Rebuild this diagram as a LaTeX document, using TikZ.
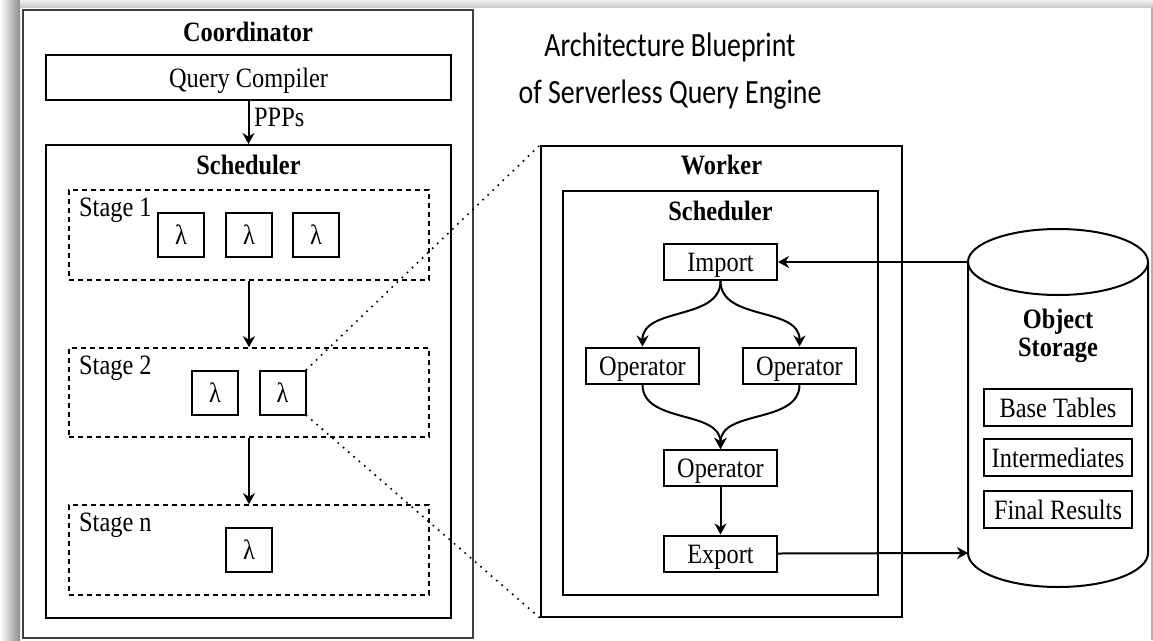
\documentclass[tikz,border=0pt]{standalone}
\usepackage{fontspec}
\setmainfont{Liberation Serif}[FakeStretch=0.87]
\newfontfamily\titlefont{Carlito}[FakeStretch=0.82]
\usetikzlibrary{arrows.meta}

\newcommand\labelsize{\fontsize{28}{32}\selectfont}

\tikzset{
  box/.style={draw, line width=2pt, rectangle, inner sep=0pt, align=center,
              text height=25pt, text depth=6pt},
  frame/.style={draw, line width=2pt, rectangle, inner sep=0pt},
  lambox/.style={box, minimum width=46pt, minimum height=44pt},
  opbox/.style={box, minimum width=113pt, minimum height=36pt},
  storebox/.style={box, minimum width=148pt, minimum height=37pt},
  stagebox/.style={draw, line width=1.6pt, dash pattern=on 5pt off 4pt, rectangle,
                   minimum width=360pt, minimum height=90pt, inner sep=0pt},
  caption/.style={inner sep=0pt, font=\labelsize\bfseries},
  plain/.style={inner sep=0pt},
  arr/.style={line width=2pt, -{Stealth[length=11pt,width=12pt,inset=3.5pt]}},
  zoomline/.style={line width=2.3pt, dash pattern=on 0pt off 7pt, line cap=round},
}

\begin{document}
\begin{tikzpicture}[x=1pt, y=-1pt, font=\labelsize]
\useasboundingbox (0,0) rectangle (1153,640);

% page edge shadow
\shade[left color=white, right color=black!45] (0,0) rectangle (20,640);
\shade[top color=black!6, bottom color=black!20] (20,0) rectangle (1153,7);
\fill[black!30] (1151,7) rectangle (1153,640);

% ---------------- Coordinator ----------------
\node[frame, draw=black!75, minimum width=450pt, minimum height=628pt] (coord) at (248,324) {};
\node[caption] (coordT) at (248,32) {Coordinator};
\node[box, minimum width=405pt, minimum height=45pt] (qc) at (248.5,77.5) {Query Compiler};
\node[frame, minimum width=405pt, minimum height=473pt] (sched) at (248.5,381.5) {};
\node[caption] (schedT) at (248.5,165) {Scheduler};

\draw[arr] (qc.south) -- (sched.north);
\node[plain, anchor=west] (ppps) at (254,117) {PPPs};

% stages
\node[stagebox] (s1) at (249,235) {};
\node[stagebox, minimum height=89pt] (s2) at (249,392.5) {};
\node[stagebox] (sn) at (249,550) {};
\node[plain, anchor=west] (s1T) at (79,210) {Stage 1};
\node[plain, anchor=west] (s2T) at (79,368) {Stage 2};
\node[plain, anchor=west] (snT) at (79,525) {Stage n};

\node[lambox] (l11) at (181,235) {λ};
\node[lambox] (l12) at (249,235) {λ};
\node[lambox] (l13) at (316,235) {λ};
\node[lambox] (l21) at (215,392.5) {λ};
\node[lambox] (l22) at (282.5,392.5) {λ};
\node[lambox] (ln1) at (249,550) {λ};

\draw[arr] (s1.south) -- (s2.north);
\draw[arr] (s2.south) -- (sn.north);

% ---------------- Title ----------------
\node[plain, font=\titlefont\fontsize{34}{40}\selectfont] (title1) at (670,47) {Architecture Blueprint};
\node[plain, font=\titlefont\fontsize{34}{40}\selectfont] (title2) at (670,95) {of Serverless Query Engine};

% ---------------- Worker ----------------
\node[frame, minimum width=361pt, minimum height=471pt] (worker) at (721.5,381.5) {};
\node[caption] (workerT) at (721.5,165) {Worker};
\node[frame, minimum width=315pt, minimum height=404pt] (wsched) at (720.5,393) {};
\node[caption] (wschedT) at (720.5,211) {Scheduler};

\node[opbox] (imp) at (720.5,262) {Import};
\node[opbox] (opl) at (642.5,365.5) {Operator};
\node[opbox] (opr) at (799.5,365.5) {Operator};
\node[opbox] (opm) at (720.5,468) {Operator};
\node[opbox] (exp) at (720.5,553.5) {Export};

\draw[arr] (imp.south) to[out=-90, in=90] (opl.north);
\draw[arr] (imp.south) to[out=-90, in=90] (opr.north);
\draw[arr] (opl.south) to[out=-90, in=90] (opm.north);
\draw[arr] (opr.south) to[out=-90, in=90] (opm.north);
\draw[arr] (opm.south) -- (exp.north);

% zoom lines from a stage-2 function to the worker
\draw[zoomline] (l22.north east) -- (worker.north west);
\draw[zoomline] (l22.south east) -- (worker.south west);

% ---------------- Object storage ----------------
\draw[line width=2pt] (968,262) -- (968,553)
  arc[start angle=180, end angle=0, x radius=90, y radius=34] -- (1148,262);
\draw[line width=2pt] (1058,262) ellipse[x radius=90, y radius=33];
\coordinate (stIn) at (968,262);
\coordinate (stOut) at (968,553);
\node[caption, align=center, font=\fontsize{28}{28}\selectfont\bfseries] (objT) at (1058,336) {Object\\Storage};
\node[storebox] (bt) at (1058,407.5) {Base Tables};
\node[storebox] (im) at (1058,457.5) {Intermediates};
\node[storebox] (fr) at (1058,509.5) {Final Results};

\draw[arr] (stIn) -- (imp.east);
\draw[arr] (exp.east) -- (stOut);
\end{tikzpicture}
\end{document}
